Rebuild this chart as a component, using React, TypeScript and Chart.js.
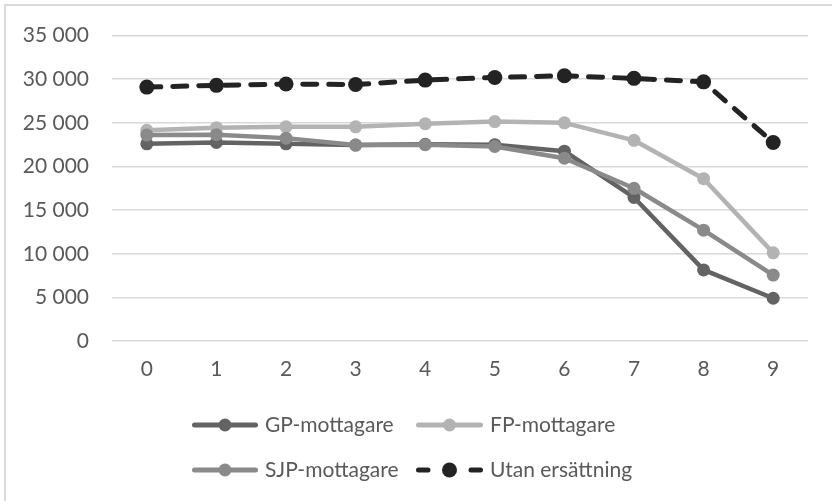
import React, { useEffect, useRef } from "react";
import { Chart, registerables } from "chart.js";

Chart.register(...registerables);

const categories = ["0", "1", "2", "3", "4", "5", "6", "7", "8", "9"];
const gpValues = [22600, 22750, 22600, 22450, 22550, 22500, 21750, 16450, 8150, 4900];
const fpValues = [24150, 24450, 24550, 24550, 24900, 25150, 25000, 23000, 18600, 10100];
const sjpValues = [23600, 23650, 23250, 22450, 22500, 22300, 20950, 17500, 12700, 7550];
const utanValues = [29100, 29300, 29450, 29400, 29900, 30200, 30400, 30100, 29700, 22750];
const yTicks = [0, 5000, 10000, 15000, 20000, 25000, 30000, 35000];
const seriesNames = ["GP-mottagare", "FP-mottagare", "SJP-mottagare", "Utan ersättning"];
const seriesColors = ["#636363", "#b3b3b3", "#8a8a8a", "#232323"];

const FONT = "Lato, 'Noto Sans', sans-serif";
const TEXT = "#595959";
const FONT_SIZE = 21;

const fmt = (v: number) => String(v).replace(/\B(?=(\d{3})+(?!\d))/g, " ");

// legend layout: [sampleStartX, sampleEndX, textX, centerY]
const legendLayout = [
  [192, 258, 265, 425],
  [416, 483, 490, 425],
  [192, 258, 265, 470],
  [416, 483, 490, 470],
];

const framePlugin = {
  id: "frameAndLegend",
  beforeDraw(chart: any) {
    const ctx = chart.ctx;
    ctx.save();
    ctx.fillStyle = "#ffffff";
    ctx.fillRect(0, 0, chart.width, chart.height);
    ctx.strokeStyle = "#d9d9d9";
    ctx.lineWidth = 2;
    ctx.beginPath();
    ctx.moveTo(5, chart.height);
    ctx.lineTo(5, 5);
    ctx.lineTo(chart.width, 5);
    ctx.stroke();
    ctx.restore();
  },
  afterDraw(chart: any) {
    const ctx = chart.ctx;
    ctx.save();
    chart.data.datasets.forEach((ds: any, i: number) => {
      const [x0, x1, tx, cy] = legendLayout[i];
      const color = ds.borderColor;
      ctx.strokeStyle = color;
      ctx.fillStyle = color;
      ctx.lineCap = "round";
      const cx = (x0 + x1) / 2;
      ctx.lineWidth = 5;
      ctx.beginPath();
      if (ds.borderDash && ds.borderDash.length) {
        ctx.moveTo(x0 + 2.5, cy);
        ctx.lineTo(x0 + 12, cy);
        ctx.moveTo(x1 - 12, cy);
        ctx.lineTo(x1 - 2.5, cy);
      } else {
        ctx.moveTo(x0 + 2.5, cy);
        ctx.lineTo(x1 - 2.5, cy);
      }
      ctx.stroke();
      ctx.beginPath();
      ctx.arc(cx, cy, ds.pointRadius, 0, Math.PI * 2);
      ctx.fill();
      ctx.fillStyle = TEXT;
      ctx.font = `${FONT_SIZE}px ${FONT}`;
      ctx.textBaseline = "middle";
      ctx.textAlign = "left";
      ctx.fillText(ds.label, tx, cy);
    });
    ctx.restore();
  },
};

export default function App() {
  const ref = useRef<HTMLCanvasElement | null>(null);

  useEffect(() => {
    if (!ref.current) return;
    const series = [gpValues, fpValues, sjpValues, utanValues];
    const chart = new Chart(ref.current, {
      type: "line",
      data: {
        labels: categories,
        datasets: series.map((vals, i) => ({
          label: seriesNames[i],
          data: vals,
          borderColor: seriesColors[i],
          backgroundColor: seriesColors[i],
          pointBackgroundColor: seriesColors[i],
          pointBorderColor: seriesColors[i],
          pointBorderWidth: 0,
          pointRadius: i === 3 ? 7.5 : 6.5,
          borderWidth: i === 3 ? 5 : 4.5,
          borderDash: i === 3 ? [14, 12] : [],
          borderCapStyle: i === 3 ? "round" : "butt",
          borderJoinStyle: "round",
          tension: 0,
          fill: false,
          order: 3 - i,
        })),
      },
      options: {
        responsive: false,
        animation: false,
        layout: { padding: { left: 0, right: 24, top: 34, bottom: 100 } },
        plugins: {
          legend: { display: false },
          tooltip: { enabled: false },
        },
        scales: {
          x: {
            offset: true,
            grid: { display: false, drawTicks: false },
            border: { display: false },
            ticks: {
              color: TEXT,
              font: { family: FONT, size: FONT_SIZE },
              padding: 16,
              maxRotation: 0,
            },
            afterFit: (s: any) => {
              s.height = 60;
            },
          },
          y: {
            min: 0,
            max: 35000,
            grid: { color: "#d9d9d9", lineWidth: 1.5, drawTicks: false },
            border: { display: false },
            afterBuildTicks: (s: any) => {
              s.ticks = yTicks.map((v) => ({ value: v }));
            },
            ticks: {
              color: TEXT,
              font: { family: FONT, size: FONT_SIZE },
              padding: 23,
              callback: (v: any) => fmt(Number(v)),
            },
            afterFit: (s: any) => {
              s.width = 112;
            },
          },
        },
      },
      plugins: [framePlugin],
    });
    return () => chart.destroy();
  }, []);

  return (
    <div style={{ position: "absolute", left: 0, top: 0, width: 832, height: 501, background: "#fff" }}>
      <canvas ref={ref} width={832} height={501} style={{ display: "block" }} />
    </div>
  );
}
